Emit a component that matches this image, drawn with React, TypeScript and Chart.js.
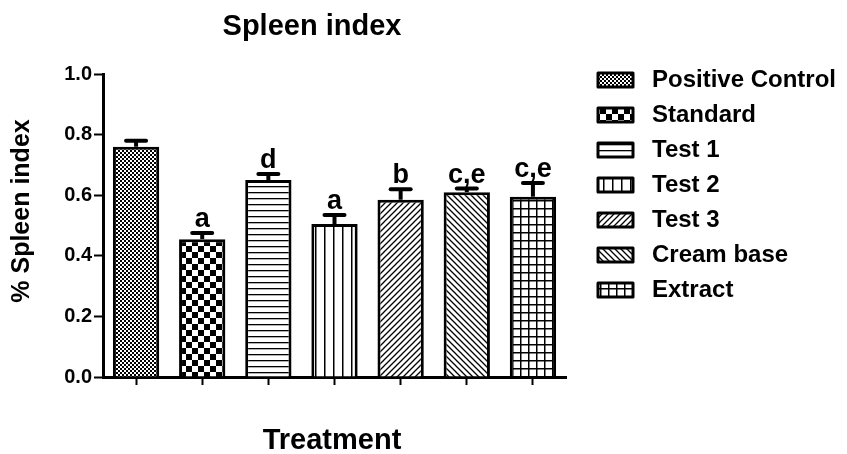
import React, { useEffect, useRef } from "react";
import { Chart, registerables } from "chart.js";

Chart.register(...registerables);

const categories = ["Positive Control", "Standard", "Test 1", "Test 2", "Test 3", "Cream base", "Extract"];
const values = [0.76, 0.455, 0.65, 0.505, 0.585, 0.61, 0.595];
const errors = [0.02, 0.02, 0.02, 0.03, 0.035, 0.012, 0.045];
const sigLetters = ["", "a", "d", "a", "b", "c,e", "c,e"];
const patternKinds = ["fineCheck", "check", "hlines", "vlines", "diagUp", "diagDown", "grid"];
const yMin = 0;
const yMax = 1.0;
const yStep = 0.2;
const chartTitle = "Spleen index";
const yTitle = "% Spleen index";
const xTitle = "Treatment";

const FONT = "Arial, 'Liberation Sans', Helvetica, sans-serif";

function makePattern(ctx: CanvasRenderingContext2D, kind: string): CanvasPattern | string {
  const t = document.createElement("canvas");
  let s = 8;
  if (kind === "fineCheck") s = 4;
  if (kind === "check") s = 12;
  if (kind === "hlines") s = 6;
  if (kind === "vlines") s = 9;
  if (kind === "diagUp" || kind === "diagDown") s = 6;
  if (kind === "grid") s = 8;
  t.width = s;
  t.height = s;
  const c = t.getContext("2d")!;
  c.fillStyle = "#fff";
  c.fillRect(0, 0, s, s);
  c.fillStyle = "#000";
  c.strokeStyle = "#000";
  if (kind === "fineCheck") {
    c.fillRect(0, 0, 2, 2);
    c.fillRect(2, 2, 2, 2);
  } else if (kind === "check") {
    c.fillRect(0, 0, 6, 6);
    c.fillRect(6, 6, 6, 6);
  } else if (kind === "hlines") {
    c.fillRect(0, 0, s, 1.3);
  } else if (kind === "vlines") {
    c.fillRect(0, 0, 1.5, s);
  } else if (kind === "diagUp") {
    c.lineWidth = 1.3;
    c.beginPath();
    c.moveTo(-1, s + 1);
    c.lineTo(s + 1, -1);
    c.moveTo(-1, 1);
    c.lineTo(1, -1);
    c.moveTo(s - 1, s + 1);
    c.lineTo(s + 1, s - 1);
    c.stroke();
  } else if (kind === "diagDown") {
    c.lineWidth = 1.3;
    c.beginPath();
    c.moveTo(-1, -1);
    c.lineTo(s + 1, s + 1);
    c.moveTo(s - 1, -1);
    c.lineTo(s + 1, 1);
    c.moveTo(-1, s - 1);
    c.lineTo(1, s + 1);
    c.stroke();
  } else if (kind === "grid") {
    c.fillRect(0, 0, s, 1.5);
    c.fillRect(0, 0, 1.5, s);
  }
  return ctx.createPattern(t, "repeat") || "#888";
}

const decorPlugin = {
  id: "decor",
  afterDatasetsDraw(chart: any) {
    const ctx: CanvasRenderingContext2D = chart.ctx;
    const meta = chart.getDatasetMeta(0);
    const yScale = chart.scales.y;
    ctx.save();
    ctx.strokeStyle = "#000";
    ctx.fillStyle = "#000";
    meta.data.forEach((bar: any, i: number) => {
      const x = bar.x;
      const yVal = bar.y;
      const yTop = yScale.getPixelForValue(values[i] + errors[i]);
      ctx.lineWidth = 4;
      ctx.lineCap = "butt";
      ctx.beginPath();
      ctx.moveTo(x, yVal);
      ctx.lineTo(x, yTop);
      ctx.stroke();
      ctx.lineCap = "round";
      ctx.beginPath();
      ctx.moveTo(x - 10, yTop);
      ctx.lineTo(x + 10, yTop);
      ctx.stroke();
      if (sigLetters[i]) {
        ctx.font = `bold 27px ${FONT}`;
        ctx.textAlign = "center";
        ctx.textBaseline = "alphabetic";
        ctx.fillText(sigLetters[i], x, yTop - 6);
      }
    });
    ctx.restore();
  },
  afterDraw(chart: any) {
    const ctx: CanvasRenderingContext2D = chart.ctx;
    const bg = chart.data.datasets[0].backgroundColor;
    ctx.save();
    ctx.fillStyle = "#000";
    // Title
    ctx.font = `bold 29px ${FONT}`;
    ctx.textAlign = "center";
    ctx.textBaseline = "alphabetic";
    ctx.fillText(chartTitle, 312, 35);
    // X title
    ctx.fillText(xTitle, 332, 449);
    // Y title
    ctx.save();
    ctx.translate(29, 211);
    ctx.rotate(-Math.PI / 2);
    ctx.font = `bold 25px ${FONT}`;
    ctx.textAlign = "center";
    ctx.fillText(yTitle, 0, 0);
    ctx.restore();
    // Legend
    categories.forEach((label, i) => {
      const cy = 80 + i * 35;
      const bx = 598;
      const bw = 35;
      const bh = 14;
      ctx.fillStyle = bg[i];
      ctx.fillRect(bx, cy - bh / 2, bw, bh);
      ctx.strokeStyle = "#000";
      ctx.lineWidth = 3;
      ctx.lineJoin = "round";
      ctx.strokeRect(bx, cy - bh / 2, bw, bh);
      ctx.fillStyle = "#000";
      ctx.font = `bold 24px ${FONT}`;
      ctx.textAlign = "left";
      ctx.textBaseline = "middle";
      ctx.fillText(label, 652, cy);
    });
    ctx.restore();
  },
};

export default function App() {
  const ref = useRef<HTMLCanvasElement>(null);
  useEffect(() => {
    const canvas = ref.current!;
    const ctx = canvas.getContext("2d")!;
    const patterns = patternKinds.map((k) => makePattern(ctx, k));
    const chart = new Chart(canvas, {
      type: "bar",
      data: {
        labels: categories,
        datasets: [
          {
            label: yTitle,
            data: values,
            backgroundColor: patterns as any,
            borderColor: "#000",
            borderWidth: 3,
            borderSkipped: "bottom",
            categoryPercentage: 1,
            barPercentage: 0.7,
          },
        ],
      },
      options: {
        responsive: false,
        animation: false,
        events: [],
        layout: { padding: { top: 74, right: 281, bottom: 0, left: 0 } },
        plugins: {
          legend: { display: false },
          title: { display: false },
          tooltip: { enabled: false },
        },
        scales: {
          x: {
            type: "category",
            offset: true,
            grid: {
              offset: false,
              drawOnChartArea: false,
              drawTicks: true,
              tickLength: 8,
              tickWidth: 2,
              color: "#000",
            },
            border: { display: true, color: "#000", width: 3 },
            ticks: { callback: () => "", font: { size: 1 } },
            afterFit: (scale: any) => {
              scale.height = 77;
            },
          },
          y: {
            min: yMin,
            max: yMax,
            grid: {
              drawOnChartArea: false,
              drawTicks: true,
              tickLength: 9,
              tickWidth: 2,
              color: "#000",
            },
            border: { display: true, color: "#000", width: 3 },
            ticks: {
              stepSize: yStep,
              color: "#000",
              padding: 2,
              font: { family: FONT, size: 20, weight: "bold" },
              callback: (v: any) => Number(v).toFixed(1),
            },
            afterFit: (scale: any) => {
              scale.width = 103;
            },
          },
        },
      },
      plugins: [decorPlugin],
    });
    return () => chart.destroy();
  }, []);
  return (
    <div style={{ position: "fixed", left: 0, top: 0, width: 847, height: 454, background: "#fff" }}>
      <canvas ref={ref} width={847} height={454} style={{ width: 847, height: 454, display: "block" }} />
    </div>
  );
}
